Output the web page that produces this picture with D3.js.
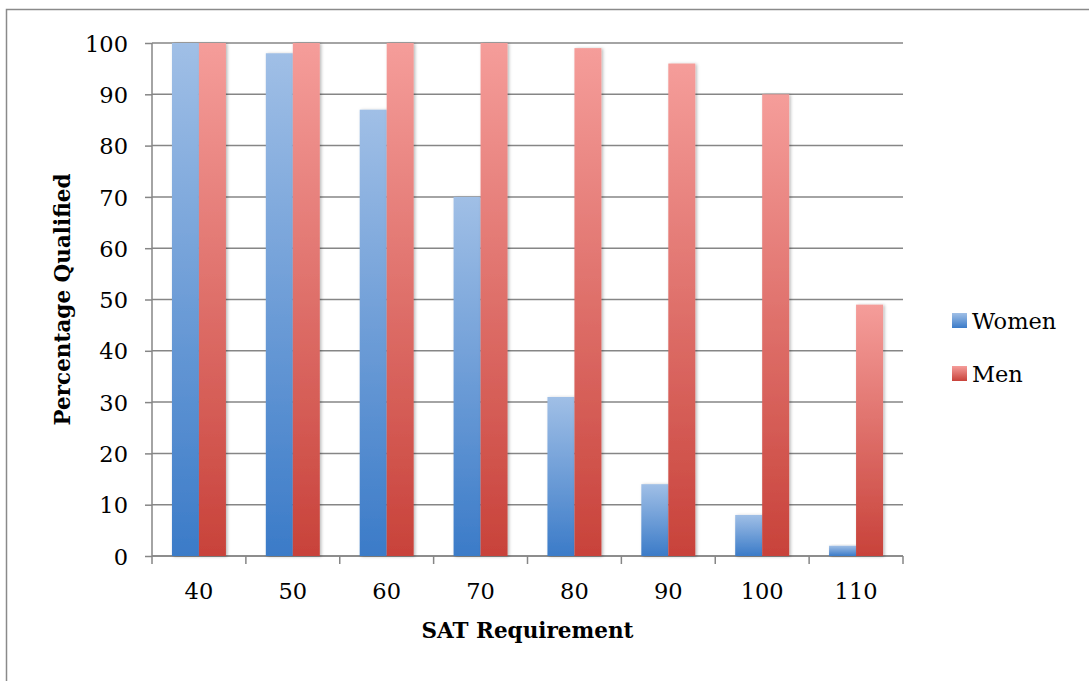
<!DOCTYPE html>
<html>
<head>
<meta charset="utf-8">
<script src="https://cdn.jsdelivr.net/npm/d3@7/dist/d3.min.js"></script>
<style>
  html, body { margin: 0; padding: 0; background: #fff; }
  svg { display: block; }
  text { font-family: "DejaVu Serif", "Liberation Serif", serif; fill: #000; }
</style>
</head>
<body>
<svg id="chart" width="1089" height="681"></svg>
<script>
// SAT requirement levels and share of each group that qualifies
const categories = ["40", "50", "60", "70", "80", "90", "100", "110"];
const women = [100, 98, 87, 70, 31, 14, 8, 2];
const men = [100, 100, 100, 100, 99, 96, 90, 49];
const seriesNames = ["Women", "Men"];
const yTicks = [0, 10, 20, 30, 40, 50, 60, 70, 80, 90, 100];

const series = [
  { name: seriesNames[0], values: women, top: "#a0bfe6", bottom: "#3b7bc8" },
  { name: seriesNames[1], values: men, top: "#f59d9a", bottom: "#c8423a" }
];

const svg = d3.select("#chart");
const W = 1089, H = 681;
const margin = { left: 152, right: 186, top: 43, bottom: 125 };
const plotW = W - margin.left - margin.right;
const plotH = H - margin.top - margin.bottom;
const gridColor = "#868686";
const labelSize = "22.5px";
const titleSize = "21.5px";

// outer chart frame
svg.append("rect")
  .attr("x", 6.5).attr("y", 9.5)
  .attr("width", W + 10).attr("height", H + 10)
  .attr("fill", "none").attr("stroke", "#8a8a8a").attr("stroke-width", 1.5);

const defs = svg.append("defs");
series.forEach((s, i) => {
  const g = defs.append("linearGradient")
    .attr("id", "grad" + i)
    .attr("x1", 0).attr("y1", 0).attr("x2", 0).attr("y2", 1);
  g.append("stop").attr("offset", "0%").attr("stop-color", s.top);
  g.append("stop").attr("offset", "100%").attr("stop-color", s.bottom);
});
const shadow = defs.append("filter").attr("id", "shadow")
  .attr("x", "-30%").attr("y", "-10%").attr("width", "160%").attr("height", "120%");
shadow.append("feDropShadow")
  .attr("dx", 1.5).attr("dy", 0.5).attr("stdDeviation", 1.6)
  .attr("flood-color", "#000").attr("flood-opacity", 0.28);

const g = svg.append("g").attr("transform", `translate(${margin.left},${margin.top})`);

const x = d3.scaleBand().domain(categories).range([0, plotW])
  .paddingInner(0.425).paddingOuter(0.2125);
const xInner = d3.scaleBand().domain(seriesNames).range([0, x.bandwidth()]);
const y = d3.scaleLinear().domain([0, 100]).range([plotH, 0]);

// horizontal gridlines
g.append("g")
  .selectAll("line")
  .data(yTicks)
  .join("line")
  .attr("x1", 0).attr("x2", plotW)
  .attr("y1", d => y(d)).attr("y2", d => y(d))
  .attr("stroke", gridColor).attr("stroke-width", 1.5);

// y axis
const yAxis = g.append("g")
  .call(d3.axisLeft(y).tickValues(yTicks).tickSize(7).tickPadding(17));
yAxis.select(".domain").attr("stroke", gridColor).attr("stroke-width", 1.5)
  .attr("d", `M0,${plotH}V0`);
yAxis.selectAll(".tick line").attr("stroke", gridColor).attr("stroke-width", 1.5);
yAxis.selectAll(".tick text").style("font-size", labelSize)
  .style("font-family", "DejaVu Serif, serif").attr("fill", "#000").attr("dy", "0.36em");

// x axis with ticks at category boundaries
const xAxisG = g.append("g").attr("transform", `translate(0,${plotH})`);
xAxisG.append("line").attr("x1", 0).attr("x2", plotW)
  .attr("stroke", gridColor).attr("stroke-width", 1.5);
const bounds = categories.map(c => x(c) - x.step() * x.paddingInner() / 2)
  .concat([plotW]);
bounds[0] = 0;
xAxisG.selectAll("line.tk").data(bounds).join("line").attr("class", "tk")
  .attr("x1", d => d).attr("x2", d => d).attr("y1", 0).attr("y2", 8)
  .attr("stroke", gridColor).attr("stroke-width", 1.5);
xAxisG.selectAll("text").data(categories).join("text")
  .attr("x", d => x(d) + x.bandwidth() / 2)
  .attr("y", 43)
  .attr("text-anchor", "middle")
  .style("font-size", labelSize)
  .text(d => d);

// bars
const groups = g.append("g").selectAll("g")
  .data(categories)
  .join("g")
  .attr("transform", d => `translate(${x(d)},0)`);
series.forEach((s, i) => {
  groups.append("rect")
    .attr("x", xInner(s.name))
    .attr("width", xInner.bandwidth())
    .attr("y", (d, j) => y(s.values[j]))
    .attr("height", (d, j) => plotH - y(s.values[j]))
    .attr("fill", `url(#grad${i})`)
    .attr("filter", "url(#shadow)");
});

// axis titles
svg.append("text")
  .attr("x", margin.left + plotW / 2).attr("y", 638)
  .attr("text-anchor", "middle")
  .style("font-size", titleSize).style("font-weight", "bold")
  .text("SAT Requirement");
svg.append("text")
  .attr("transform", `translate(70,${margin.top + plotH / 2}) rotate(-90)`)
  .attr("text-anchor", "middle")
  .style("font-size", titleSize).style("font-weight", "bold")
  .text("Percentage Qualified");

// legend
const legend = svg.append("g").attr("transform", "translate(952,313)");
series.forEach((s, i) => {
  const row = legend.append("g").attr("transform", `translate(0,${i * 53})`);
  row.append("rect").attr("width", 15).attr("height", 15)
    .attr("fill", `url(#grad${i})`);
  row.append("text").attr("x", 20).attr("y", 7.5).attr("dy", "0.36em")
    .style("font-size", labelSize).text(s.name);
});
</script>
</body>
</html>
